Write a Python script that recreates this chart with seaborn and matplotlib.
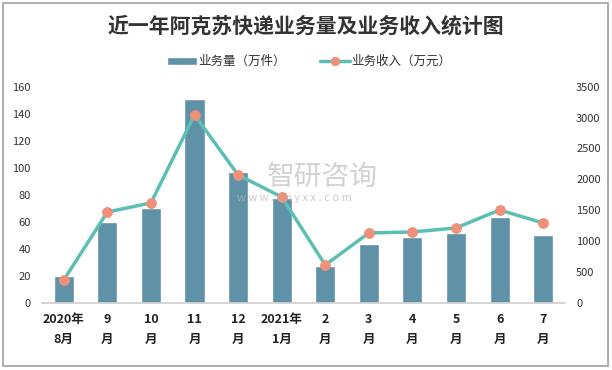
import matplotlib

matplotlib.use("Agg")
import matplotlib.pyplot as plt
import numpy as np
import pandas as pd
import seaborn as sns
from matplotlib.patches import Rectangle

months = ["2020年\n8月", "9\n月", "10\n月", "11\n月", "12\n月", "2021年\n1月",
          "2\n月", "3\n月", "4\n月", "5\n月", "6\n月", "7\n月"]
volume = [20, 60, 70, 151, 96.5, 77.5, 27.5, 43.5, 48.5, 51.5, 63.5, 50]
income = [372, 1472, 1618, 3042, 2071, 1715, 615, 1133, 1149, 1214, 1505, 1294]
left_ticks = [0, 20, 40, 60, 80, 100, 120, 140, 160]
right_ticks = [0, 500, 1000, 1500, 2000, 2500, 3000, 3500]

BAR_COLOR = "#5f91a7"
LINE_COLOR = "#5dbfb4"
MARK_COLOR = "#ef907a"

sns.set_theme(style="white")
plt.rcParams["font.family"] = ["Noto Sans CJK SC", "DejaVu Sans"]

df = pd.DataFrame({"month": months, "volume": volume, "income": income})

fig = plt.figure(figsize=(6.12, 3.70), dpi=100)
ax = fig.add_axes([0.0686, 0.181, 0.8545, 0.585])

sns.barplot(data=df, x="month", y="volume", color=BAR_COLOR, width=0.46,
            saturation=1, ax=ax, label="业务量（万件）")
ax.set_ylim(0, 160)
ax.set_xlim(-0.5, len(months) - 0.5)
ax.set_yticks(left_ticks)
ax.set_xlabel("")
ax.set_ylabel("")
ax.tick_params(axis="y", labelsize=8, colors="#333333", length=0, pad=8)
ax.tick_params(axis="x", labelsize=9, colors="#222222", length=0, pad=7)
for lab in ax.get_xticklabels():
    lab.set_fontweight("bold")
    lab.set_linespacing(1.75)
for s in ["top", "left", "right"]:
    ax.spines[s].set_visible(False)
ax.spines["bottom"].set_color("#d0d0d0")

ax2 = ax.twinx()
sns.lineplot(x=np.arange(len(months)), y=income, ax=ax2, color=LINE_COLOR,
             linewidth=2.5, marker="o", markersize=7,
             markerfacecolor=MARK_COLOR, markeredgecolor=MARK_COLOR,
             label="业务收入（万元）", legend=False)
ax2.set_ylim(0, 3500)
ax2.set_yticks(right_ticks)
ax2.tick_params(axis="y", labelsize=8, colors="#333333", length=0, pad=8)
for s in ["top", "left", "right", "bottom"]:
    ax2.spines[s].set_visible(False)
ax2.set_xlim(-0.5, len(months) - 0.5)

h1, l1 = ax.get_legend_handles_labels()
h2, l2 = ax2.get_legend_handles_labels()
leg = fig.legend(h1 + h2, l1 + l2, loc="center", bbox_to_anchor=(0.505, 0.833),
                 ncol=2, frameon=False, fontsize=9, handlelength=2.4,
                 handletextpad=0.1, columnspacing=2.8, markerscale=0.85)
for t in leg.get_texts():
    t.set_color("#333333")
if ax.get_legend() is not None:
    ax.get_legend().remove()

fig.text(0.5, 0.93, "近一年阿克苏快递业务量及业务收入统计图", ha="center",
         va="center", fontsize=15, fontweight="bold", color="#333333")

# watermark
fig.text(0.436, 0.522, "智研咨询", fontsize=20, color="#b5b5b5", alpha=0.6,
         ha="left", va="center")
fig.text(0.387, 0.465, "w w w . c h y x x . c o m", fontsize=8,
         color="#b5b5b5", alpha=0.7, ha="left", va="center")

fig.patches.append(Rectangle((0.005, 0.011), 0.989, 0.98,
                             transform=fig.transFigure, fill=False,
                             edgecolor="#a0a0a0", linewidth=1.2))

fig.savefig("out.png", dpi=100)
